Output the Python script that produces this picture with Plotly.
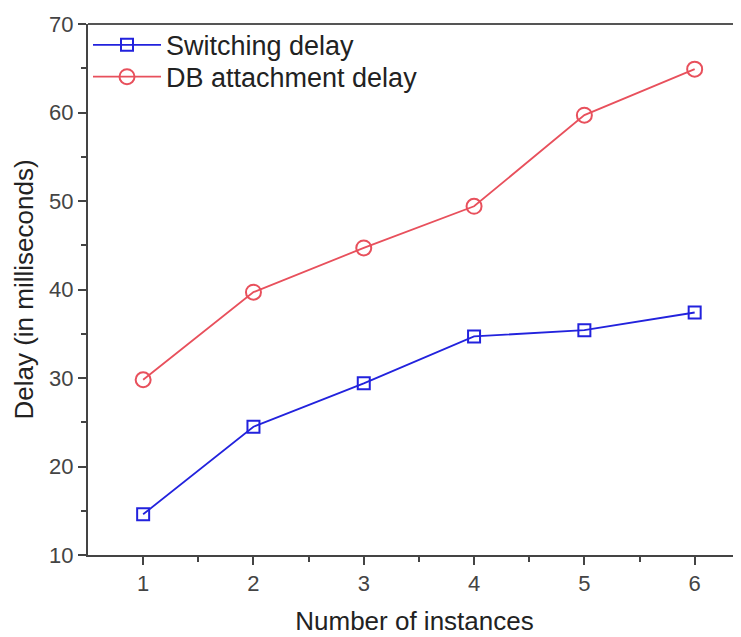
import plotly.graph_objects as go

instances = [1, 2, 3, 4, 5, 6]
switching_delay = [14.6, 24.5, 29.4, 34.7, 35.4, 37.4]
db_attachment_delay = [29.8, 39.7, 44.7, 49.4, 59.7, 64.9]

fig = go.Figure()
fig.add_trace(go.Scatter(
    x=instances, y=switching_delay, mode="lines+markers", name="Switching delay",
    line=dict(color="#2222dd", width=1.8), legend="legend",
    marker=dict(symbol="square-open", size=12, color="#2222dd", line=dict(width=2))))
fig.add_trace(go.Scatter(
    x=instances, y=db_attachment_delay, mode="lines+markers", name="DB attachment delay",
    line=dict(color="#e8505c", width=1.8), legend="legend2",
    marker=dict(symbol="circle-open", size=15, color="#e8505c", line=dict(width=2))))

axis_common = dict(showgrid=False, zeroline=False, showline=True, linecolor="#444",
                   linewidth=2, ticks="outside", ticklen=8, tickwidth=2, tickcolor="#444",
                   tickfont=dict(size=22, color="#444"), automargin=False)
fig.update_xaxes(range=[0.5, 6.42], tickvals=instances, mirror=False,
                 minor=dict(tickvals=[1.5, 2.5, 3.5, 4.5, 5.5], ticks="outside", ticklen=5,
                            tickwidth=2, tickcolor="#444"),
                 title=dict(text="Number of instances", font=dict(size=26, color="#222"), standoff=16),
                 **axis_common)
fig.update_yaxes(range=[10, 70], tickvals=[10, 20, 30, 40, 50, 60, 70],
                 minor=dict(tickvals=[15, 25, 35, 45, 55, 65], ticks="outside", ticklen=5,
                            tickwidth=2, tickcolor="#444"),
                 title=dict(text="Delay (in milliseconds)", font=dict(size=26, color="#222"), standoff=8),
                 **axis_common)
# top frame line
fig.add_shape(type="line", xref="paper", yref="paper", x0=0, x1=1, y0=1, y1=1,
              line=dict(color="#555", width=2))

leg_common = dict(x=0.0, xanchor="left", yanchor="middle", bgcolor="rgba(0,0,0,0)",
                  font=dict(size=27, color="#222"), itemwidth=68)
fig.update_layout(
    width=733, height=629,
    margin=dict(l=80, r=0, t=16, b=82),
    plot_bgcolor="white", paper_bgcolor="white",
    font=dict(family="Liberation Sans, Arial, sans-serif", color="#222"),
    legend=dict(y=0.960, **leg_common),
    legend2=dict(y=0.900, **leg_common),
    showlegend=True,
)
fig.write_html("out.html")
